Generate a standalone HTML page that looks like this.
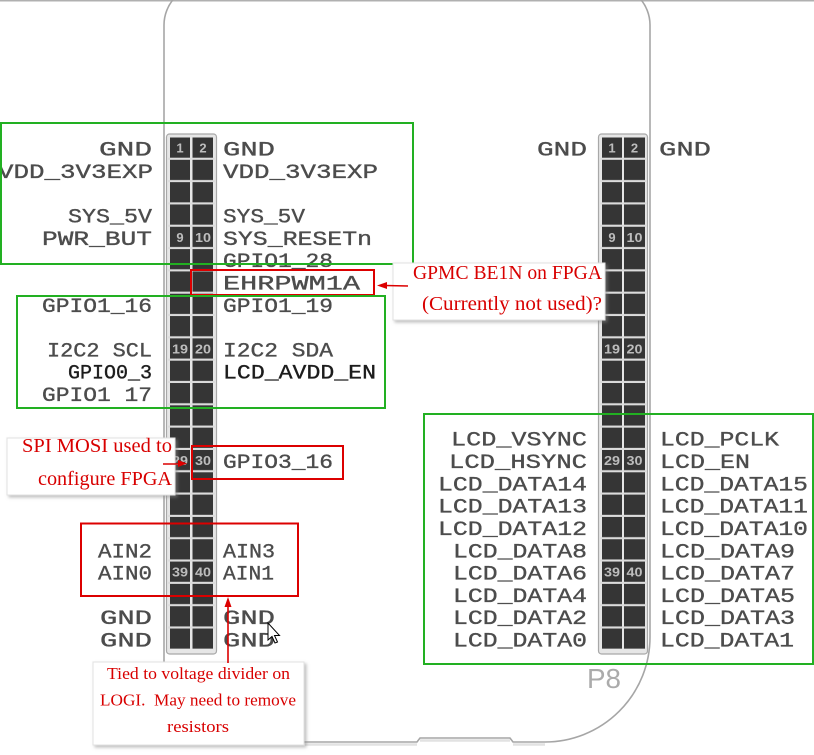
<!DOCTYPE html>
<html><head><meta charset="utf-8"><style>
html,body{margin:0;padding:0;background:#fff;}
svg{display:block;}
.l{font-family:"Liberation Mono",monospace;font-size:20px;fill:#4c4c4c;stroke:#4c4c4c;stroke-width:0.35px;}
.d{fill:#1c1c1c;stroke:#1c1c1c;}
.n{font-family:"Liberation Sans",sans-serif;font-size:13px;fill:#bdbdbd;font-weight:bold;}
.r{font-family:"Liberation Serif",serif;fill:#d80000;}
</style></head><body>
<svg width="814" height="755" viewBox="0 0 814 755" xmlns="http://www.w3.org/2000/svg">
<defs>
<pattern id="gaps" patternUnits="userSpaceOnUse" x="0" y="137.5" width="10" height="22.32">
<rect x="0" y="20.2" width="10" height="2.12" fill="#dcdcdc"/>
</pattern>
<filter id="sh" x="-10%" y="-10%" width="130%" height="140%">
<feDropShadow dx="2" dy="2" stdDeviation="1.5" flood-color="#888" flood-opacity="0.55"/>
</filter>
</defs>
<rect width="814" height="755" fill="#fff"/>
<line x1="0" y1="0.75" x2="814" y2="0.75" stroke="#b0b0b0" stroke-width="1.5"/>

<!-- board outline -->
<path d="M164 742 L164 25 A40 40 0 0 1 204 -15 L610 -15 A40 40 0 0 1 650 25 L650 637 A105 105 0 0 1 545 742 L513 742 L510 738 L420 738 L417 742 Z" fill="none" stroke="#a6a6a6" stroke-width="1.6"/>
<path d="M305 744.5 L417 744.5 M420 740.5 L510 740.5 M513 744.5 L545 744.5" stroke="#e2e2e2" stroke-width="2.5" fill="none"/>
<text x="587" y="688" font-family="Liberation Sans, sans-serif" font-size="28" fill="#ababab" textLength="34" lengthAdjust="spacingAndGlyphs">P8</text>

<!-- P9 header -->
<rect x="166.5" y="134" width="50" height="520" rx="3" fill="#e6e6e6" stroke="#a8a8a8" stroke-width="1.2"/>
<rect x="170" y="137.5" width="20" height="511.2" fill="#353535"/>
<rect x="192.5" y="137.5" width="20.5" height="511.2" fill="#353535"/>
<rect x="168" y="137.5" width="47" height="511.2" fill="url(#gaps)"/>
<!-- P8 header -->
<rect x="598.5" y="134" width="49" height="520" rx="3" fill="#e6e6e6" stroke="#a8a8a8" stroke-width="1.2"/>
<rect x="602" y="137.5" width="20" height="511.2" fill="#353535"/>
<rect x="624" y="137.5" width="21" height="511.2" fill="#353535"/>
<rect x="600" y="137.5" width="47" height="511.2" fill="url(#gaps)"/>

<!-- pin numbers P9 -->
<g class="n" text-anchor="middle">
<text x="180" y="152.5">1</text><text x="203" y="152.5">2</text>
<text x="180" y="241.8">9</text><text x="203" y="241.8" textLength="16" lengthAdjust="spacingAndGlyphs">10</text>
<text x="180" y="353.4" textLength="16" lengthAdjust="spacingAndGlyphs">19</text><text x="203" y="353.4" textLength="16" lengthAdjust="spacingAndGlyphs">20</text>
<text x="180" y="465" textLength="16" lengthAdjust="spacingAndGlyphs">29</text><text x="203" y="465" textLength="16" lengthAdjust="spacingAndGlyphs">30</text>
<text x="180" y="576.6" textLength="16" lengthAdjust="spacingAndGlyphs">39</text><text x="203" y="576.6" textLength="16" lengthAdjust="spacingAndGlyphs">40</text>
<!-- P8 -->
<text x="612" y="152.5">1</text><text x="634.5" y="152.5">2</text>
<text x="612" y="241.8">9</text><text x="634.5" y="241.8" textLength="16" lengthAdjust="spacingAndGlyphs">10</text>
<text x="612" y="353.4" textLength="16" lengthAdjust="spacingAndGlyphs">19</text><text x="634.5" y="353.4" textLength="16" lengthAdjust="spacingAndGlyphs">20</text>
<text x="612" y="465" textLength="16" lengthAdjust="spacingAndGlyphs">29</text><text x="634.5" y="465" textLength="16" lengthAdjust="spacingAndGlyphs">30</text>
<text x="612" y="576.6" textLength="16" lengthAdjust="spacingAndGlyphs">39</text><text x="634.5" y="576.6" textLength="16" lengthAdjust="spacingAndGlyphs">40</text>
</g>

<!-- P9 labels left -->
<g class="l">
<text x="99" y="155.5" textLength="53" lengthAdjust="spacingAndGlyphs">GND</text>
<text x="-2" y="177.8" textLength="155" lengthAdjust="spacingAndGlyphs">VDD_3V3EXP</text>
<text x="68" y="222.5" textLength="84" lengthAdjust="spacingAndGlyphs">SYS_5V</text>
<text x="42" y="244.8" textLength="110" lengthAdjust="spacingAndGlyphs">PWR_BUT</text>
<text x="42" y="312" textLength="110" lengthAdjust="spacingAndGlyphs">GPIO1_16</text>
<text x="47" y="356.4" textLength="105" lengthAdjust="spacingAndGlyphs">I2C2 SCL</text>
<text class="l d" x="68" y="378.7" textLength="84" lengthAdjust="spacingAndGlyphs">GPIO0_3</text>
<text x="42" y="401" textLength="110" lengthAdjust="spacingAndGlyphs">GPIO1 17</text>
<text x="98" y="557.3" textLength="54" lengthAdjust="spacingAndGlyphs">AIN2</text>
<text x="98" y="579.6" textLength="54" lengthAdjust="spacingAndGlyphs">AIN0</text>
<text x="100" y="624.2" textLength="52" lengthAdjust="spacingAndGlyphs">GND</text>
<text x="100" y="646.5" textLength="52" lengthAdjust="spacingAndGlyphs">GND</text>

<!-- P9 labels right -->
<text x="223" y="155.5" textLength="52" lengthAdjust="spacingAndGlyphs">GND</text>
<text x="223" y="177.8" textLength="155" lengthAdjust="spacingAndGlyphs">VDD_3V3EXP</text>
<text x="223" y="222.5" textLength="82" lengthAdjust="spacingAndGlyphs">SYS_5V</text>
<text x="223" y="244.8" textLength="149" lengthAdjust="spacingAndGlyphs">SYS_RESETn</text>
<text x="223" y="267.1" textLength="110" lengthAdjust="spacingAndGlyphs">GPIO1_28</text>
<text x="223" y="289.4" textLength="137" lengthAdjust="spacingAndGlyphs">EHRPWM1A</text>
<text x="223" y="312" textLength="110" lengthAdjust="spacingAndGlyphs">GPIO1_19</text>
<text x="223" y="356.4" textLength="110" lengthAdjust="spacingAndGlyphs">I2C2 SDA</text>
<text class="l d" x="223" y="378.7" textLength="153" lengthAdjust="spacingAndGlyphs">LCD_AVDD_EN</text>
<text x="223" y="468" textLength="110" lengthAdjust="spacingAndGlyphs">GPIO3_16</text>
<text x="223" y="557.3" textLength="52" lengthAdjust="spacingAndGlyphs">AIN3</text>
<text x="223" y="579.6" textLength="51" lengthAdjust="spacingAndGlyphs">AIN1</text>
<text x="223" y="624.2" textLength="52" lengthAdjust="spacingAndGlyphs">GND</text>
<text x="223" y="646.5" textLength="52" lengthAdjust="spacingAndGlyphs">GND</text>

<!-- P8 labels left -->
<text x="537" y="155.5" textLength="50" lengthAdjust="spacingAndGlyphs">GND</text>
<text x="451" y="445.7" textLength="136" lengthAdjust="spacingAndGlyphs">LCD_VSYNC</text>
<text x="449" y="468" textLength="138" lengthAdjust="spacingAndGlyphs">LCD_HSYNC</text>
<text x="438" y="490.3" textLength="149" lengthAdjust="spacingAndGlyphs">LCD_DATA14</text>
<text x="438" y="512.6" textLength="149" lengthAdjust="spacingAndGlyphs">LCD_DATA13</text>
<text x="438" y="535" textLength="149" lengthAdjust="spacingAndGlyphs">LCD_DATA12</text>
<text x="453" y="557.3" textLength="134" lengthAdjust="spacingAndGlyphs">LCD_DATA8</text>
<text x="453" y="579.6" textLength="134" lengthAdjust="spacingAndGlyphs">LCD_DATA6</text>
<text x="453" y="601.9" textLength="134" lengthAdjust="spacingAndGlyphs">LCD_DATA4</text>
<text x="453" y="624.2" textLength="134" lengthAdjust="spacingAndGlyphs">LCD_DATA2</text>
<text x="453" y="646.5" textLength="134" lengthAdjust="spacingAndGlyphs">LCD_DATA0</text>

<!-- P8 labels right -->
<text x="659" y="155.5" textLength="52" lengthAdjust="spacingAndGlyphs">GND</text>
<text x="660" y="445.7" textLength="119" lengthAdjust="spacingAndGlyphs">LCD_PCLK</text>
<text x="660" y="468" textLength="90" lengthAdjust="spacingAndGlyphs">LCD_EN</text>
<text x="660" y="490.3" textLength="148" lengthAdjust="spacingAndGlyphs">LCD_DATA15</text>
<text x="660" y="512.6" textLength="148" lengthAdjust="spacingAndGlyphs">LCD_DATA11</text>
<text x="660" y="535" textLength="148" lengthAdjust="spacingAndGlyphs">LCD_DATA10</text>
<text x="660" y="557.3" textLength="135" lengthAdjust="spacingAndGlyphs">LCD_DATA9</text>
<text x="660" y="579.6" textLength="135" lengthAdjust="spacingAndGlyphs">LCD_DATA7</text>
<text x="660" y="601.9" textLength="135" lengthAdjust="spacingAndGlyphs">LCD_DATA5</text>
<text x="660" y="624.2" textLength="135" lengthAdjust="spacingAndGlyphs">LCD_DATA3</text>
<text x="660" y="646.5" textLength="134" lengthAdjust="spacingAndGlyphs">LCD_DATA1</text>
</g>

<!-- red boxes -->
<g fill="none" stroke="#dc0000" stroke-width="2">
<rect x="191" y="270" width="183" height="25"/>
<rect x="192" y="446" width="151" height="33"/>
<rect x="81" y="523.5" width="217" height="72.5"/>
</g>
<!-- green boxes -->
<g fill="none" stroke="#22b022" stroke-width="2">
<rect x="1" y="123" width="412" height="141"/>
<rect x="17" y="296" width="368" height="112"/>
<rect x="424" y="414" width="389" height="250"/>
</g>

<!-- callouts -->
<rect x="393" y="263" width="212" height="57" fill="#fff" stroke="#e2e2e2" stroke-width="1" filter="url(#sh)"/>
<rect x="7" y="438" width="168" height="57" fill="#fff" stroke="#e2e2e2" stroke-width="1" filter="url(#sh)"/>
<rect x="93" y="662" width="211" height="83" fill="#fff" stroke="#e2e2e2" stroke-width="1" filter="url(#sh)"/>

<text class="r" x="413" y="279" font-size="20" textLength="189" lengthAdjust="spacingAndGlyphs">GPMC BE1N on FPGA</text>
<text class="r" x="422" y="310" font-size="20" textLength="180" lengthAdjust="spacingAndGlyphs">(Currently not used)?</text>

<text class="r" x="22" y="452" font-size="19.5" textLength="150" lengthAdjust="spacingAndGlyphs">SPI MOSI used to</text>
<text class="r" x="38" y="485" font-size="19.5" textLength="134" lengthAdjust="spacingAndGlyphs">configure FPGA</text>

<text class="r" x="107" y="679" font-size="17" textLength="183" lengthAdjust="spacingAndGlyphs">Tied to voltage divider on</text>
<text class="r" x="100" y="705.5" font-size="17" textLength="196" lengthAdjust="spacingAndGlyphs" xml:space="preserve">LOGI.  May need to remove</text>
<text class="r" x="167" y="732" font-size="17" textLength="62" lengthAdjust="spacingAndGlyphs">resistors</text>

<!-- arrows -->
<g stroke="#dc0000" stroke-width="1.6" fill="#dc0000">
<line x1="408" y1="286" x2="385" y2="285.5"/>
<polygon points="377,285.5 387,282 387,289" stroke="none"/>
<line x1="163" y1="464" x2="180" y2="464"/>
<polygon points="187,463.5 178,460 178,467" stroke="none"/>
<line x1="228" y1="663" x2="228" y2="604"/>
<polygon points="228,597 224.5,607 231.5,607" stroke="none"/>
</g>

<!-- mouse cursor -->
<polygon points="268,623 268,640 272,636.5 275,643 277.5,642 274.5,635.5 279.5,635.5" fill="#fff" stroke="#000" stroke-width="1"/>
</svg>
</body></html>
